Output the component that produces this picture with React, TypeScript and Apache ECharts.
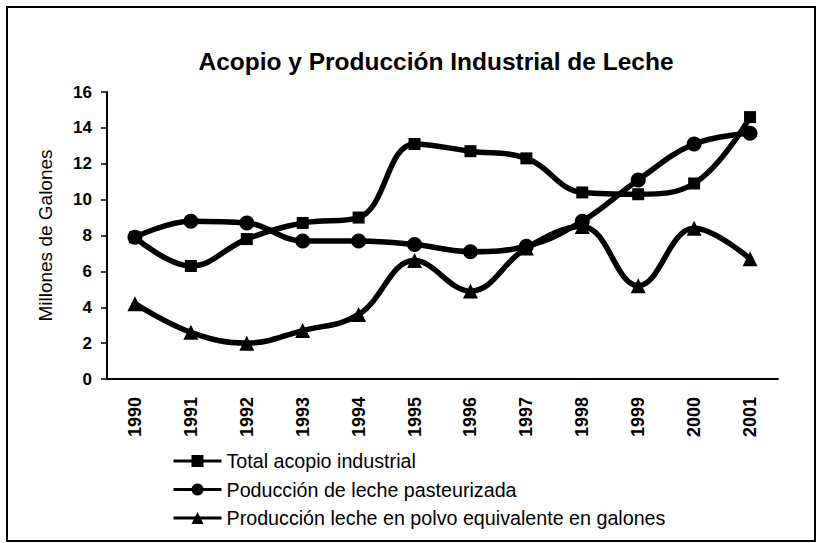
import React, { useEffect, useRef } from "react";
import * as echarts from "echarts";

const years = ["1990", "1991", "1992", "1993", "1994", "1995", "1996", "1997", "1998", "1999", "2000", "2001"];
const totalAcopio = [7.9, 6.3, 7.8, 8.7, 9.0, 13.1, 12.7, 12.3, 10.4, 10.3, 10.9, 14.6];
const pasteurizada = [7.9, 8.8, 8.7, 7.7, 7.7, 7.5, 7.1, 7.4, 8.8, 11.1, 13.1, 13.7];
const polvo = [4.2, 2.6, 2.0, 2.7, 3.6, 6.6, 4.9, 7.3, 8.5, 5.2, 8.4, 6.7];
const seriesNames = [
  "Total acopio industrial",
  "Poducción de leche pasteurizada",
  "Producción leche en polvo equivalente en galones",
];

const FONT = "'Liberation Sans', Arial, Helvetica, sans-serif";

export default function App() {
  const ref = useRef<HTMLDivElement>(null);
  useEffect(() => {
    if (!ref.current) return;
    const chart = echarts.init(ref.current, undefined, { renderer: "svg" });
    const mk = (name: string, data: number[], symbol: string, size: number) => ({
      name,
      type: "line",
      data,
      smooth: 0.4,
      symbol,
      symbolSize: size,
      lineStyle: { color: "#000", width: 5.5 },
      itemStyle: { color: "#000" },
    });
    chart.setOption({
      animation: false,
      backgroundColor: "#fff",
      textStyle: { fontFamily: FONT },
      title: {
        text: "Acopio y Producción Industrial de Leche",
        left: 431,
        top: 44,
        textAlign: "center",
        textStyle: { fontFamily: FONT, fontSize: 24.5, fontWeight: "bold", color: "#000" },
      },
      graphic: [
        {
          type: "rect",
          shape: { x: 7, y: 7, width: 808, height: 534 },
          style: { fill: "none", stroke: "#000", lineWidth: 2 },
          silent: true,
        },
      ],
      legend: {
        orient: "vertical",
        left: 172,
        top: 451,
        padding: 0,
        itemWidth: 48,
        itemHeight: 15,
        itemGap: 8.5,
        data: seriesNames,
        lineStyle: { width: 3 },
        textStyle: { fontFamily: FONT, fontSize: 19.7, color: "#000" },
      },
      grid: { left: 107, right: 39, top: 92, bottom: 164 },
      xAxis: {
        type: "category",
        data: years,
        boundaryGap: true,
        axisLine: { lineStyle: { color: "#000", width: 2 } },
        axisTick: { length: 5, lineStyle: { color: "#000", width: 1.5 } },
        axisLabel: {
          rotate: 90,
          margin: 18,
          fontFamily: FONT,
          fontSize: 18,
          fontWeight: "bold",
          color: "#000",
        },
      },
      yAxis: {
        type: "value",
        min: 0,
        max: 16,
        interval: 2,
        name: "Millones de Galones",
        nameLocation: "middle",
        nameGap: 52,
        nameTextStyle: { fontFamily: FONT, fontSize: 19, color: "#000" },
        splitLine: { show: false },
        axisLine: { show: true, lineStyle: { color: "#000", width: 2 } },
        axisTick: { show: true, length: 6, lineStyle: { color: "#000", width: 1.5 } },
        axisLabel: { margin: 15, fontFamily: FONT, fontSize: 17, fontWeight: "bold", color: "#000" },
      },
      series: [
        mk(seriesNames[0], totalAcopio, "rect", 12),
        mk(seriesNames[1], pasteurizada, "circle", 15),
        mk(seriesNames[2], polvo, "triangle", 15),
      ],
    });
    return () => chart.dispose();
  }, []);
  return (
    <div
      ref={ref}
      style={{ position: "fixed", left: 0, top: 0, width: 817, height: 543, background: "#fff" }}
    />
  );
}
